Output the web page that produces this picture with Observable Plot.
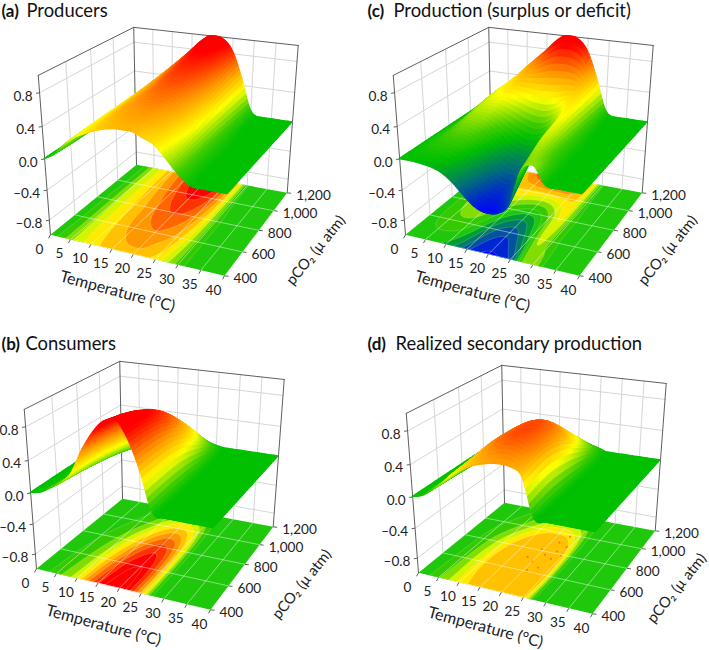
<!DOCTYPE html>
<html>
<head>
<meta charset="utf-8">
<style>html,body{margin:0;padding:0;background:#fff}</style>
<script src="https://cdn.jsdelivr.net/npm/d3@7"></script>
<script src="https://cdn.jsdelivr.net/npm/@observablehq/plot@0.6"></script>
</head>
<body>
<div id="chart"></div>
<script>
const temperatureGrid = [0,2.5,5,7.5,10,12.5,15,17.5,20,22.5,25,27.5,30,32.5,35,37.5,40];
const pco2Grid = [400,600,800,1000,1200];
const temperatureTicks = [0,5,10,15,20,25,30,35,40];
const pco2Ticks = [400,600,800,1000,1200];
const pco2TickLabels = ["400","600","800","1,000","1,200"];
const zTicks = [-0.8,-0.4,0,0.4,0.8];
const zTickLabels = ["–0.8","–0.4","0.0","0.4","0.8"];

const producers = [
  [0,.08,.22,.33,.40,.46,.50,.52,.52,.47,.41,.27,.12,.01,0,0,0],
  [0,.07,.23,.35,.43,.52,.58,.62,.64,.60,.52,.35,.12,.01,0,0,0],
  [0,.07,.24,.36,.46,.55,.64,.72,.76,.73,.62,.41,.12,.01,0,0,0],
  [0,.06,.25,.37,.49,.60,.71,.82,.88,.86,.73,.46,.10,0,0,0,0],
  [0,.06,.25,.38,.52,.65,.78,.92,1,.98,.84,.50,.08,0,0,0,0]
];
const consumers = [
  [0,.03,.11,.20,.34,.62,.84,.99,1.02,.84,.50,.05,0,0,0,0,0],
  [0,.02,.08,.16,.30,.52,.74,.90,.95,.82,.50,.06,0,0,0,0,0],
  [0,.01,.04,.10,.20,.36,.54,.70,.78,.70,.44,.05,0,0,0,0,0],
  [0,0,.01,.03,.08,.16,.28,.40,.46,.42,.26,.03,0,0,0,0,0],
  [0,0,0,0,.01,.02,.04,.05,.05,.04,.02,0,0,0,0,0,0]
];
const surplus = [
  [0,0,-.01,-.03,-.08,-.18,-.32,-.43,-.47,-.44,-.30,.14,.22,.02,0,0,0],
  [0,.05,.10,.12,.10,0,-.15,-.27,-.31,-.22,0,.28,.12,.01,0,0,0],
  [0,.06,.18,.25,.25,.18,.10,.02,-.02,.03,.18,.36,.12,.01,0,0,0],
  [0,.06,.24,.34,.40,.44,.43,.42,.42,.44,.47,.43,.10,0,0,0,0],
  [0,.06,.25,.38,.52,.65,.78,.92,1,.98,.84,.50,.08,0,0,0,0]
];
const secondary = [
  [0,.04,.14,.25,.38,.46,.52,.56,.58,.57,.48,.02,0,0,0,0,0],
  [0,.03,.12,.25,.40,.54,.65,.72,.76,.71,.55,.05,0,0,0,0,0],
  [0,.02,.09,.20,.34,.48,.60,.69,.72,.66,.47,.04,0,0,0,0,0],
  [0,.01,.04,.08,.16,.26,.36,.41,.42,.39,.26,.03,0,0,0,0,0],
  [0,0,0,.01,.03,.05,.07,.08,.08,.07,.04,0,0,0,0,0,0]
];
// small flecks of darker orange on the floor of panel (d)
const fleckTemperature = [18.2,19.6,20.1,21.3,21.8,22.4,23.1,23.3,24.2,20.7,22.9,24.8];
const fleckPco2 = [720,810,690,770,905,650,820,745,880,610,980,790];

const panels = [
  {tag:"(a)", title:"Producers", rows:producers, dx:0, dy:0, tagX:1, titleX:26, titleY:11, labelShift:0, titleShift:0, floorCap:9},
  {tag:"(c)", title:"Production (surplus or deficit)", rows:surplus, dx:355, dy:0, tagX:367, titleX:393, titleY:11, labelShift:-3, titleShift:0, floorCap:9},
  {tag:"(b)", title:"Consumers", rows:consumers, dx:-14, dy:334, tagX:1, titleX:25, titleY:344, labelShift:0, titleShift:0, floorCap:9},
  {tag:"(d)", title:"Realized secondary production", rows:secondary, dx:368, dy:338, tagX:367, titleX:395, titleY:344, labelShift:-7, titleShift:-2, floorCap:0.5}
];

// camera: box corners of panel (a) on the page
const Q = [[50,234.3],[224,275.3],[286.7,192.3],[136,164.3]];
const TOP = [[0,0,37.7,74],[0,1,133.3,26],[1,1,297.7,46.7]];
const cam = (() => {
  const [[x0,y0],[x1,y1],[x2,y2],[x3,y3]] = Q;
  const dx1=x1-x2, dx2=x3-x2, sx=x0-x1+x2-x3, dy1=y1-y2, dy2=y3-y2, sy=y0-y1+y2-y3;
  const det=dx1*dy2-dx2*dy1;
  const g=(sx*dy2-dx2*sy)/det, h=(dx1*sy-sx*dy1)/det;
  const a=x1-x0+g*x1, b=x3-x0+h*x3, c=x0, d=y1-y0+g*y1, e=y3-y0+h*y3, f=y0;
  const rowsX=[], rowsY=[];
  for (const [u,v,X,Y] of TOP) {
    const hx=a*u+b*v+c, hy=d*u+e*v+f, hw=g*u+h*v+1;
    rowsX.push([X, X*hw-hx]); rowsY.push([Y, Y*hw-hy]);
  }
  const mean=(r,i)=>d3.mean(r,q=>q[i]);
  const ax=mean(rowsX,0), bx=mean(rowsX,1), ay=mean(rowsY,0), by=mean(rowsY,1);
  const num=d3.sum(rowsX,q=>(q[0]-ax)*(q[1]-bx))+d3.sum(rowsY,q=>(q[0]-ay)*(q[1]-by));
  const den=d3.sum(rowsX,q=>(q[0]-ax)**2)+d3.sum(rowsY,q=>(q[0]-ay)**2);
  const r=-num/den, p=bx+ax*r, q=by+ay*r;
  return {a,b,c,d,e,f,g,h,p,q,r};
})();
function project(t,co2,z,panel) {
  const u=t/40, v=(co2-400)/800, w=(z+1)/2;
  const W=cam.g*u+cam.h*v+1+cam.r*w;
  return [(cam.a*u+cam.b*v+cam.c+cam.p*w)/W+panel.dx,(cam.d*u+cam.e*v+cam.f+cam.q*w)/W+panel.dy];
}

// monotone cubic so the drawn sheet is smooth between the values read
function mono(xs,ys,x) {
  const n=xs.length;
  let i=d3.bisectRight(xs,x)-1; i=Math.max(0,Math.min(n-2,i));
  const s=k=>(ys[k+1]-ys[k])/(xs[k+1]-xs[k]);
  const tan=k=>{
    if(k===0) return s(0);
    if(k===n-1) return s(n-2);
    const a=s(k-1), b=s(k);
    return a*b<=0?0:(a+b)/2;
  };
  const h=xs[i+1]-xs[i], q=(x-xs[i])/h, q2=q*q, q3=q2*q;
  return (2*q3-3*q2+1)*ys[i]+(q3-2*q2+q)*h*tan(i)+(-2*q3+3*q2)*ys[i+1]+(q3-q2)*h*tan(i+1);
}
function sheet(rows,t,co2) {
  return mono(pco2Grid,rows.map(r=>mono(temperatureGrid,r,t)),co2);
}
const colorOf = d3.scaleLinear()
  .domain([-0.48,-0.25,0,0.12,0.35,0.6,0.9])
  .range(["#0000ff","#006a80","#00c000","#40cc00","#ffff00","#ff9800","#ff0000"])
  .clamp(true);

const FLOOR=-1;
const quads=[], bands=[], bandLines=[], wallLines=[], edgeLines=[], floorGrid=[], tickLinks=[];
const labelsEnd=[], labelsMid=[], labelsStart=[], titles=[], tags=[], xTitles=[], yTitles=[];
let id=0;
for (const panel of panels) {
  const P=panel;
  // surface: far corner first
  const nT=110, nP=32;
  const hgrid=[];
  for (let j=0;j<=nP;j++){const row=[];for(let i=0;i<=nT;i++)row.push(sheet(P.rows,i*40/nT,400+j*800/nP));hgrid.push(row);}
  for (let j=nP-1;j>=0;j--) for (let i=0;i<nT;i++) {
    const t0=i*40/nT,t1=(i+1)*40/nT,c0=400+j*800/nP,c1=400+(j+1)*800/nP;
    const z00=hgrid[j][i],z10=hgrid[j][i+1],z01=hgrid[j+1][i],z11=hgrid[j+1][i+1];
    const col=colorOf((z00+z10+z01+z11)/4);
    const k=id++;
    const a0=project(t0,c0,z00,P),a1=project(t0,c1,z01,P),b0=project(t1,c0,z10,P),b1=project(t1,c1,z11,P);
    quads.push({k,col,x1:a0[0],y1:a0[1],x2:a1[0],y2:a1[1]},{k,col,x1:b0[0],y1:b0[1],x2:b1[0],y2:b1[1]});
  }
  // floor contour bands
  const gw=161, gh=81, values=new Float64Array(gw*gh);
  for (let j=0;j<gh;j++) for (let i=0;i<gw;i++) values[j*gw+i]=sheet(P.rows,i*0.25,400+j*10);
  const addRing=(ring,col,store)=>{
    const k=id++;
    for (const [gx,gy] of ring) {
      const t=Math.max(0,Math.min(40,(gx-0.5)*0.25)), c=Math.max(400,Math.min(1200,400+(gy-0.5)*10));
      const [x,y]=project(t,c,FLOOR,P);
      store.push({k,col,x,y});
    }
  };
  const base=id++;
  for (const [t,c] of [[0,400],[40,400],[40,1200],[0,1200]]) {
    const [x,y]=project(t,c,FLOOR,P);
    bands.push({k:base,col:"#20c80c",x,y});
  }
  const pos=d3.range(0.05,1.2,0.1).filter(t=>t<=P.floorCap), neg=d3.range(0.05,0.6,0.1);
  const gen=d3.contours().size([gw,gh]).smooth(true);
  for (const t of pos) {
    const poly=gen.contour(Array.from(values),t);
    for (const rings of poly.coordinates) {
      addRing(rings[0],colorOf(t+0.05),bands);
      addRing(rings[0],"line",bandLines);
    }
  }
  const flipped=Array.from(values,v=>-v);
  for (const t of neg) {
    const poly=gen.contour(flipped,t);
    for (const rings of poly.coordinates) {
      addRing(rings[0],colorOf(-t-0.05),bands);
      addRing(rings[0],"line",bandLines);
    }
  }
  const seg=(store,a,b)=>{const k=id++; store.push({k,x:a[0],y:a[1]},{k,x:b[0],y:b[1]});};
  // wall and floor grids
  for (const z of zTicks) {
    seg(wallLines,project(0,400,z,P),project(0,1200,z,P));
    seg(wallLines,project(0,1200,z,P),project(40,1200,z,P));
  }
  for (const t of temperatureTicks.slice(1,-1)) {
    seg(wallLines,project(t,1200,FLOOR,P),project(t,1200,1,P));
    seg(floorGrid,project(t,400,FLOOR,P),project(t,1200,FLOOR,P));
  }
  for (const c of pco2Ticks.slice(1,-1)) {
    seg(wallLines,project(0,c,FLOOR,P),project(0,c,1,P));
    seg(floorGrid,project(0,c,FLOOR,P),project(40,c,FLOOR,P));
  }
  // box edges
  seg(edgeLines,project(0,400,FLOOR,P),project(0,400,1,P));
  seg(edgeLines,project(0,400,1,P),project(0,1200,1,P));
  seg(edgeLines,project(0,1200,FLOOR,P),project(0,1200,1,P));
  seg(edgeLines,project(0,1200,1,P),project(40,1200,1,P));
  seg(edgeLines,project(40,1200,FLOOR,P),project(40,1200,1,P));
  // ticks and labels
  zTicks.forEach((z,i)=>{
    const [x,y]=project(0,400,z,P);
    tickLinks.push({x1:x,y1:y,x2:x-3.5,y2:y+0.5});
    labelsEnd.push({x:x-7,y:y+3.5,text:zTickLabels[i]});
  });
  temperatureTicks.forEach(t=>{
    const [x,y]=project(t,400,FLOOR,P);
    tickLinks.push({x1:x,y1:y,x2:x-2,y2:y+3.5});
    labelsMid.push({x:x-11,y:y+14.5,text:String(t)});
  });
  pco2Ticks.forEach((c,i)=>{
    const [x,y]=project(40,c,FLOOR,P);
    tickLinks.push({x1:x,y1:y,x2:x+4,y2:y+0.5});
    labelsStart.push({x:x+9,y:y+3,text:pco2TickLabels[i]});
  });
  const fr=project(40,400,FLOOR,P), br=project(40,1200,FLOOR,P);
  xTitles.push({x:117+P.dx,y:291+P.dy+P.titleShift,text:"Temperature (°C)"});
  yTitles.push({x:(fr[0]+br[0])/2+60+P.labelShift,y:(fr[1]+br[1])/2+16,text:"pCO₂ (µ atm)"});
  tags.push({x:P.tagX,y:P.titleY,text:P.tag});
  titles.push({x:P.titleX,y:P.titleY,text:P.title});
}
const panelD=panels[3];
const flecks=fleckTemperature.map((t,i)=>{const [x,y]=project(t,fleckPco2[i],FLOOR,panelD);return {x,y};});

const font="Lato";
const fig=Plot.plot({
  width:709,height:650,margin:0,
  x:{domain:[0,709],range:[0,709],axis:null},
  y:{domain:[0,650],range:[0,650],axis:null},
  color:{type:"identity"},
  style:{background:"#fff"},
  marks:[
    Plot.line(wallLines,{x:"x",y:"y",z:"k",stroke:"#d6d6d6",strokeWidth:1}),
    Plot.line(edgeLines,{x:"x",y:"y",z:"k",stroke:"#5f5f5f",strokeWidth:1}),
    Plot.line(bands,{x:"x",y:"y",z:"k",fill:"col",stroke:"none"}),
    Plot.line(bandLines,{x:"x",y:"y",z:"k",stroke:"#fff",strokeOpacity:0.22,strokeWidth:0.8}),
    Plot.dot(flecks,{x:"x",y:"y",r:1.1,fill:"#ff7a10"}),
    Plot.line(floorGrid,{x:"x",y:"y",z:"k",stroke:"#fff",strokeOpacity:0.45,strokeWidth:1}),
    Plot.area(quads,{x1:"x1",y1:"y1",x2:"x2",y2:"y2",z:"k",fill:"col",stroke:"col",strokeWidth:1.2}),
    Plot.link(tickLinks,{x1:"x1",y1:"y1",x2:"x2",y2:"y2",stroke:"#5f5f5f",strokeWidth:1}),
    Plot.text(labelsEnd,{x:"x",y:"y",text:"text",textAnchor:"end",fontFamily:font,fontSize:13.6,fill:"#222"}),
    Plot.text(labelsMid,{x:"x",y:"y",text:"text",fontFamily:font,fontSize:13.6,fill:"#222"}),
    Plot.text(labelsStart,{x:"x",y:"y",text:"text",textAnchor:"start",fontFamily:font,fontSize:13.6,fill:"#222"}),
    Plot.text(xTitles,{x:"x",y:"y",text:"text",rotate:15,fontFamily:font,fontSize:16,fill:"#222"}),
    Plot.text(yTitles,{x:"x",y:"y",text:"text",rotate:-51,fontFamily:font,fontSize:14.8,fill:"#222"}),
    Plot.text(tags,{x:"x",y:"y",text:"text",textAnchor:"start",fontFamily:font,fontSize:17,fontWeight:"bold",fill:"#111"}),
    Plot.text(titles,{x:"x",y:"y",text:"text",textAnchor:"start",fontFamily:font,fontSize:18.4,fill:"#111"})
  ]
});
document.getElementById("chart").appendChild(fig);
</script>
</body>
</html>
